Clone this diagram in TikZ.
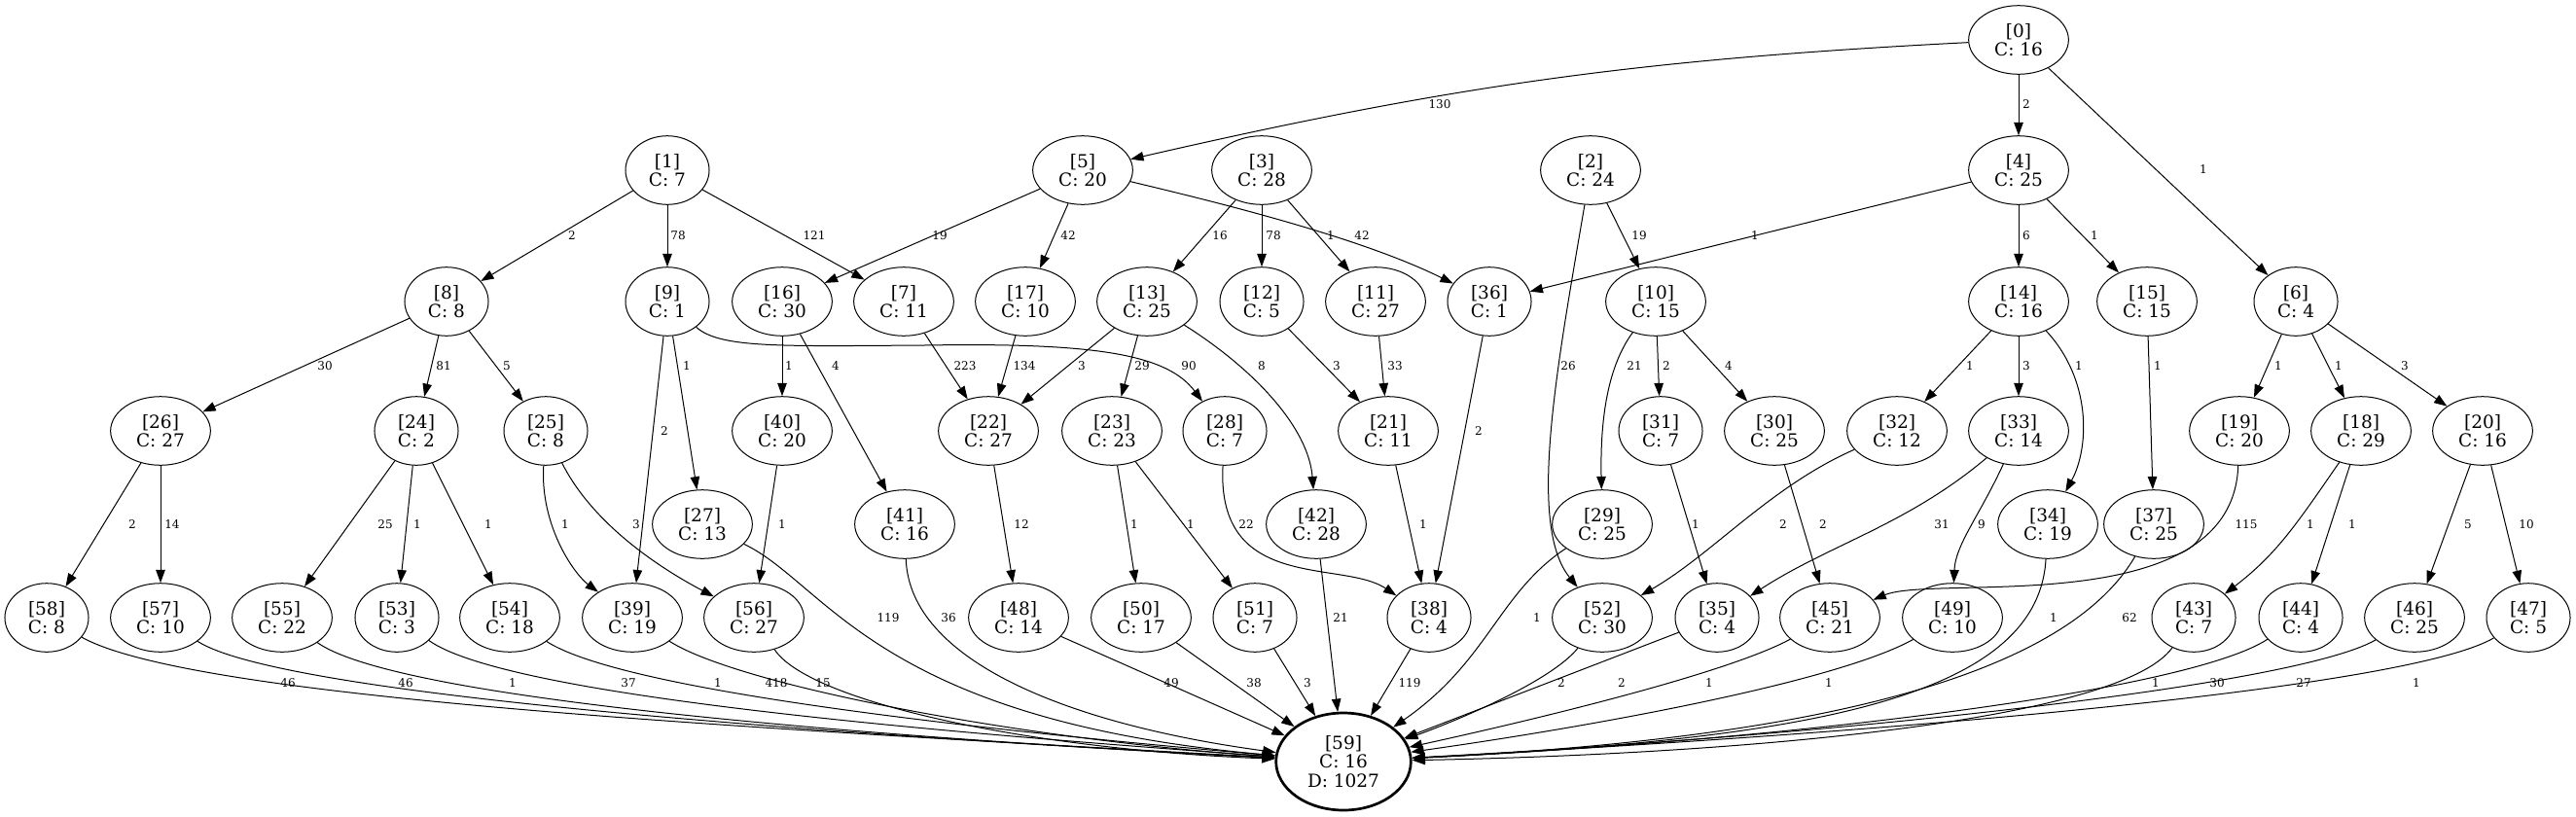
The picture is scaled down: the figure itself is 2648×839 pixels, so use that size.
\documentclass[tikz,border=0pt]{standalone}
\usepackage{fontspec}
\setmainfont{DejaVu Serif}
\usetikzlibrary{shapes.geometric,arrows.meta}
\newcommand\nfont{\fontsize{18.5}{19.2}\selectfont}
\newcommand\lfont{\fontsize{12}{14}\selectfont}
\begin{document}
\begin{tikzpicture}[x=1pt,y=-1pt,
 nd/.style={ellipse,draw,line width=1pt,inner xsep=11.4pt,inner ysep=2pt,minimum height=70.6pt,align=center,font=\nfont},
 sink/.style={nd,line width=2.7pt,minimum height=100pt,inner xsep=12pt},
 lbl/.style={inner sep=0pt,font=\lfont},
 e/.style={line width=1pt,-{Triangle[length=13.3pt,width=9.5pt]}},
]
\fill[white] (0,0) rectangle (2648,839);
\useasboundingbox (0,0) rectangle (2648,839);
% nodes
\node[nd] (n0) at (2075,41) {[0]\\C: 16};
\node[nd] (n1) at (686,175) {[1]\\C: 7};
\node[nd] (n5) at (1113,175) {[5]\\C: 20};
\node[nd] (n3) at (1297,175) {[3]\\C: 28};
\node[nd] (n2) at (1635,175) {[2]\\C: 24};
\node[nd] (n4) at (2075,175) {[4]\\C: 25};
\node[nd] (n8) at (459,310) {[8]\\C: 8};
\node[nd] (n9) at (686,310) {[9]\\C: 1};
\node[nd] (n16) at (804,310) {[16]\\C: 30};
\node[nd] (n7) at (929,310) {[7]\\C: 11};
\node[nd] (n17) at (1054,310) {[17]\\C: 10};
\node[nd] (n13) at (1179,310) {[13]\\C: 25};
\node[nd] (n12) at (1297,310) {[12]\\C: 5};
\node[nd] (n11) at (1414,310) {[11]\\C: 27};
\node[nd] (n36) at (1531,310) {[36]\\C: 1};
\node[nd] (n10) at (1702,310) {[10]\\C: 15};
\node[nd] (n14) at (2075,310) {[14]\\C: 16};
\node[nd] (n15) at (2207,310) {[15]\\C: 15};
\node[nd] (n6) at (2360,310) {[6]\\C: 4};
\node[nd] (n26) at (165,443) {[26]\\C: 27};
\node[nd] (n24) at (428,443) {[24]\\C: 2};
\node[nd] (n25) at (561,443) {[25]\\C: 8};
\node[nd] (n40) at (804,443) {[40]\\C: 20};
\node[nd] (n22) at (1016,443) {[22]\\C: 27};
\node[nd] (n23) at (1143,443) {[23]\\C: 23};
\node[nd] (n28) at (1259,443) {[28]\\C: 7};
\node[nd] (n21) at (1427,443) {[21]\\C: 11};
\node[nd] (n31) at (1707,443) {[31]\\C: 7};
\node[nd] (n30) at (1824,443) {[30]\\C: 25};
\node[nd] (n32) at (1950,443) {[32]\\C: 12};
\node[nd] (n33) at (2075,443) {[33]\\C: 14};
\node[nd] (n19) at (2302,443) {[19]\\C: 20};
\node[nd] (n18) at (2427,443) {[18]\\C: 29};
\node[nd] (n20) at (2552,443) {[20]\\C: 16};
\node[nd] (n27) at (722,539) {[27]\\C: 13};
\node[nd] (n41) at (930,539) {[41]\\C: 16};
\node[nd] (n42) at (1353,539) {[42]\\C: 28};
\node[nd] (n29) at (1647,539) {[29]\\C: 25};
\node[nd] (n34) at (2105,539) {[34]\\C: 19};
\node[nd] (n37) at (2214,539) {[37]\\C: 25};
\node[nd] (n58) at (48,635) {[58]\\C: 8};
\node[nd] (n57) at (165,635) {[57]\\C: 10};
\node[nd] (n55) at (290,635) {[55]\\C: 22};
\node[nd] (n53) at (408,635) {[53]\\C: 3};
\node[nd] (n54) at (524,635) {[54]\\C: 18};
\node[nd] (n39) at (650,635) {[39]\\C: 19};
\node[nd] (n56) at (775,635) {[56]\\C: 27};
\node[nd] (n48) at (1047,635) {[48]\\C: 14};
\node[nd] (n50) at (1173,635) {[50]\\C: 17};
\node[nd] (n51) at (1290,635) {[51]\\C: 7};
\node[nd] (n38) at (1469,635) {[38]\\C: 4};
\node[nd] (n52) at (1647,635) {[52]\\C: 30};
\node[nd] (n35) at (1765,635) {[35]\\C: 4};
\node[nd] (n45) at (1881,635) {[45]\\C: 21};
\node[nd] (n49) at (2007,635) {[49]\\C: 10};
\node[nd] (n43) at (2255,635) {[43]\\C: 7};
\node[nd] (n44) at (2365,635) {[44]\\C: 4};
\node[nd] (n46) at (2482,635) {[46]\\C: 25};
\node[nd] (n47) at (2599,635) {[47]\\C: 5};
\node[sink] (n59) at (1381,783) {[59]\\C: 16\\D: 1027};
% edges rank 0-1
\draw[e] (n0) to[bend right=5] (n5);
\draw[e] (n0) -- (n4);
\draw[e] (n0) -- (n6);
\draw[e] (n1) -- (n8);
\draw[e] (n1) -- (n9);
\draw[e] (n1) -- (n7);
\draw[e] (n5) -- (n16);
\draw[e] (n5) -- (n17);
\draw[e] (n5) .. controls (1260,210) and (1400,245) .. (n36);
\draw[e] (n3) -- (n13);
\draw[e] (n3) -- (n12);
\draw[e] (n3) -- (n11);
\draw[e] (n2) -- (n10);
\draw[e] (n2) .. controls (1600,380) and (1570,540) .. (n52);
\draw[e] (n4) -- (n36);
\draw[e] (n4) -- (n14);
\draw[e] (n4) -- (n15);
% rank 2-3
\draw[e] (n8) -- (n26);
\draw[e] (n8) -- (n24);
\draw[e] (n8) -- (n25);
\draw[e] (n9) .. controls (740,358) and (800,356) .. (950,355) .. controls (1130,352) and (1200,365) .. (n28);
\draw[e] (n9) -- (n27);
\draw[e] (n9) -- (n39);
\draw[e] (n16) -- (n40);
\draw[e] (n16) -- (n41);
\draw[e] (n7) -- (n22);
\draw[e] (n17) -- (n22);
\draw[e] (n13) -- (n22);
\draw[e] (n13) -- (n23);
\draw[e] (n13) .. controls (1290,380) and (1345,440) .. (n42);
\draw[e] (n12) -- (n21);
\draw[e] (n11) -- (n21);
\draw[e] (n36) -- (n38);
\draw[e] (n10) .. controls (1650,380) and (1645,440) .. (n29);
\draw[e] (n10) -- (n31);
\draw[e] (n10) -- (n30);
\draw[e] (n14) -- (n32);
\draw[e] (n14) -- (n33);
\draw[e] (n14) .. controls (2150,390) and (2148,460) .. (n34);
\draw[e] (n15) -- (n37);
\draw[e] (n6) -- (n19);
\draw[e] (n6) -- (n18);
\draw[e] (n6) -- (n20);
% rank 3-4
\draw[e] (n26) -- (n58);
\draw[e] (n26) -- (n57);
\draw[e] (n24) -- (n55);
\draw[e] (n24) -- (n53);
\draw[e] (n24) -- (n54);
\draw[e] (n25) .. controls (555,540) and (590,590) .. (n39);
\draw[e] (n25) .. controls (610,540) and (680,585) .. (n56);
\draw[e] (n40) -- (n56);
\draw[e] (n22) -- (n48);
\draw[e] (n23) -- (n50);
\draw[e] (n23) -- (n51);
\draw[e] (n28) .. controls (1250,610) and (1380,575) .. (n38);
\draw[e] (n21) -- (n38);
\draw[e] (n31) -- (n35);
\draw[e] (n30) -- (n45);
\draw[e] (n32) .. controls (1820,500) and (1760,570) .. (n52);
\draw[e] (n33) .. controls (1960,540) and (1880,560) .. (n35);
\draw[e] (n33) .. controls (2035,530) and (2010,560) .. (n49);
\draw[e] (n19) .. controls (2295,640) and (1990,590) .. (n45);
\draw[e] (n18) .. controls (2360,540) and (2340,570) .. (n43);
\draw[e] (n18) -- (n44);
\draw[e] (n20) -- (n46);
\draw[e] (n20) -- (n47);
% to sink
\draw[e] (n58) .. controls (200,720) and (800,750) .. (n59);
\draw[e] (n57) .. controls (290,715) and (850,755) .. (n59);
\draw[e] (n55) .. controls (410,720) and (900,758) .. (n59);
\draw[e] (n53) .. controls (520,715) and (950,752) .. (n59);
\draw[e] (n54) .. controls (640,710) and (1000,750) .. (n59);
\draw[e] (n39) .. controls (760,705) and (1050,760) .. (n59);
\draw[e] (n56) .. controls (830,720) and (1050,770) .. (n59);
\draw[e] (n27) .. controls (850,600) and (900,740) .. (n59);
\draw[e] (n41) .. controls (935,680) and (1100,745) .. (n59);
\draw[e] (n48) -- (n59);
\draw[e] (n50) -- (n59);
\draw[e] (n51) -- (n59);
\draw[e] (n42) -- (n59);
\draw[e] (n38) -- (n59);
\draw[e] (n29) .. controls (1540,610) and (1530,680) .. (n59);
\draw[e] (n52) .. controls (1595,700) and (1500,740) .. (n59);
\draw[e] (n35) -- (n59);
\draw[e] (n45) .. controls (1780,690) and (1600,735) .. (n59);
\draw[e] (n49) .. controls (1890,700) and (1650,745) .. (n59);
\draw[e] (n34) .. controls (2095,720) and (1850,760) .. (n59);
\draw[e] (n37) .. controls (2120,700) and (1850,760) .. (n59);
\draw[e] (n43) .. controls (2180,740) and (1800,775) .. (n59);
\draw[e] (n44) .. controls (2250,710) and (1850,760) .. (n59);
\draw[e] (n46) .. controls (2360,705) and (1900,755) .. (n59);
\draw[e] (n47) .. controls (2480,705) and (2000,750) .. (n59);
% labels
\node[lbl] (a1) at (1480,107) {130};
\node[lbl] (a2) at (2083,107) {2};
\node[lbl] (a3) at (2265,174) {1};
\node[lbl] (b1) at (588,242) {2};
\node[lbl] (b2) at (697,242) {78};
\node[lbl] (b3) at (837,242) {121};
\node[lbl] (b4) at (966,242) {19};
\node[lbl] (b5) at (1098,242) {42};
\node[lbl] (b6) at (1254,242) {16};
\node[lbl] (b7) at (1309,242) {78};
\node[lbl] (b8) at (1368,242) {1};
\node[lbl] (b9) at (1400,242) {42};
\node[lbl] (b10) at (1685,242) {19};
\node[lbl] (b11) at (1804,242) {1};
\node[lbl] (b12) at (2083,242) {6};
\node[lbl] (b13) at (2153,242) {1};
\node[lbl] (c1) at (334,376) {30};
\node[lbl] (c2) at (456,376) {81};
\node[lbl] (c3) at (521,376) {5};
\node[lbl] (c4) at (706,376) {1};
\node[lbl] (c5) at (811,376) {1};
\node[lbl] (c6) at (859,376) {4};
\node[lbl] (c7) at (992,376) {223};
\node[lbl] (c8) at (1053,376) {134};
\node[lbl] (c9) at (1112,376) {3};
\node[lbl] (c10) at (1174,376) {29};
\node[lbl] (c11) at (1222,376) {90};
\node[lbl] (c12) at (1297,376) {8};
\node[lbl] (c13) at (1374,376) {3};
\node[lbl] (c14) at (1434,376) {33};
\node[lbl] (c15) at (1612,376) {26};
\node[lbl] (c16) at (1680,376) {21};
\node[lbl] (c17) at (1713,376) {2};
\node[lbl] (c18) at (1777,376) {4};
\node[lbl] (c19) at (2025,376) {1};
\node[lbl] (c20) at (2083,376) {3};
\node[lbl] (c21) at (2137,376) {1};
\node[lbl] (c22) at (2218,376) {1};
\node[lbl] (c23) at (2342,376) {1};
\node[lbl] (c24) at (2404,376) {1};
\node[lbl] (c25) at (2472,376) {3};
\node[lbl] (c26) at (683,443) {2};
\node[lbl] (c27) at (1520,443) {2};
\node[lbl] (d1) at (136,539) {2};
\node[lbl] (d2) at (177,539) {14};
\node[lbl] (d3) at (396,539) {25};
\node[lbl] (d4) at (429,539) {1};
\node[lbl] (d5) at (502,539) {1};
\node[lbl] (d6) at (581,539) {1};
\node[lbl] (d7) at (654,539) {3};
\node[lbl] (d8) at (804,539) {1};
\node[lbl] (d9) at (1050,539) {12};
\node[lbl] (d10) at (1166,539) {1};
\node[lbl] (d11) at (1224,539) {1};
\node[lbl] (d12) at (1281,539) {22};
\node[lbl] (d13) at (1463,539) {1};
\node[lbl] (d14) at (1743,539) {1};
\node[lbl] (d15) at (1833,539) {2};
\node[lbl] (d16) at (1874,539) {2};
\node[lbl] (d17) at (1996,539) {31};
\node[lbl] (d18) at (2037,539) {9};
\node[lbl] (d19) at (2309,539) {115};
\node[lbl] (d20) at (2375,539) {1};
\node[lbl] (d21) at (2418,539) {1};
\node[lbl] (d22) at (2537,539) {5};
\node[lbl] (d23) at (2597,539) {10};
\node[lbl] (f1) at (913,635) {119};
\node[lbl] (f2) at (975,635) {36};
\node[lbl] (f3) at (1378,635) {21};
\node[lbl] (f4) at (1580,635) {1};
\node[lbl] (f5) at (2111,635) {1};
\node[lbl] (f6) at (2189,635) {62};
\node[lbl] (g1) at (296,702) {46};
\node[lbl] (g2) at (417,702) {46};
\node[lbl] (g3) at (527,702) {1};
\node[lbl] (g4) at (646,702) {37};
\node[lbl] (g5) at (738,702) {1};
\node[lbl] (g6) at (798,702) {418};
\node[lbl] (g7) at (846,702) {15};
\node[lbl] (g8) at (1204,702) {49};
\node[lbl] (g9) at (1289,702) {38};
\node[lbl] (g10) at (1344,702) {3};
\node[lbl] (g11) at (1449,702) {119};
\node[lbl] (g12) at (1605,702) {2};
\node[lbl] (g13) at (1667,702) {2};
\node[lbl] (g14) at (1757,702) {1};
\node[lbl] (g15) at (1880,702) {1};
\node[lbl] (g16) at (2216,702) {1};
\node[lbl] (g17) at (2279,702) {30};
\node[lbl] (g18) at (2368,702) {27};
\node[lbl] (g19) at (2484,702) {1};
\end{tikzpicture}
\end{document}
